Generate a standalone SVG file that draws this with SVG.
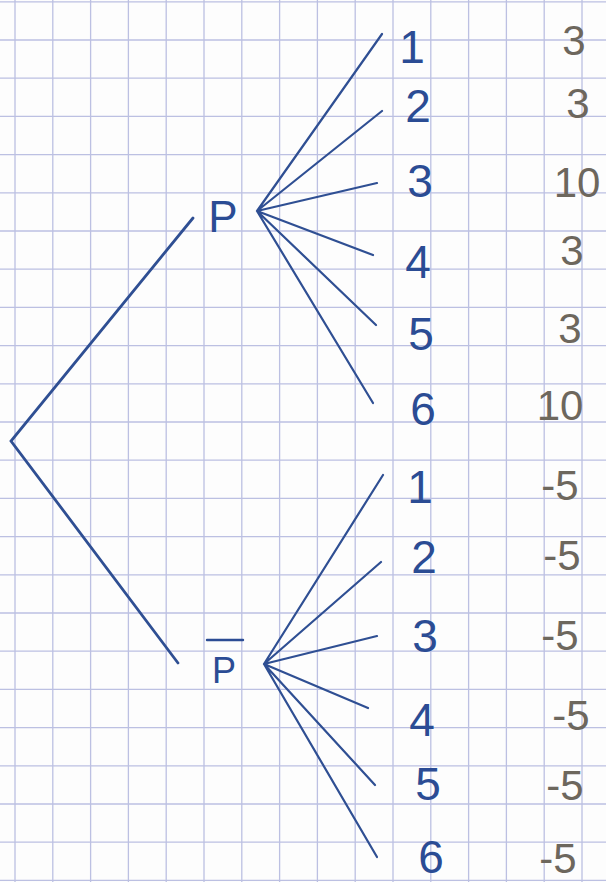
<svg xmlns="http://www.w3.org/2000/svg" width="606" height="882" viewBox="0 0 606 882">
<style>
.grid{stroke:#bcc0e2;stroke-width:1.3;fill:none}
.edge{stroke:#2f4f93;stroke-width:2.2;fill:none;stroke-linecap:round}
.main{stroke-width:2.8}
.lab{font-family:"Liberation Sans","DejaVu Sans",sans-serif;fill:#2b4c94;text-anchor:middle}
.val{font-family:"Liberation Sans","DejaVu Sans",sans-serif;fill:#6d675d;text-anchor:middle;font-size:42px}
.num{font-size:46px}
</style>
<rect width="606" height="882" fill="#fdfdfd"/>
<path class="grid" d="M15 0V882M52.8 0V882M90.6 0V882M128.4 0V882M166.2 0V882M204 0V882M241.8 0V882M279.6 0V882M317.4 0V882M355.2 0V882M393 0V882M430.8 0V882M468.6 0V882M506.4 0V882M544.2 0V882M582 0V882
M0 1.8H606M0 40H606M0 78.2H606M0 116.4H606M0 154.6H606M0 192.8H606M0 231H606M0 269.2H606M0 307.4H606M0 345.6H606M0 383.8H606M0 422H606M0 460.2H606M0 498.4H606M0 536.6H606M0 574.8H606M0 613H606M0 651.2H606M0 689.4H606M0 727.6H606M0 765.8H606M0 804H606M0 842.2H606M0 880.4H606"/>
<g id="connectors">
<path class="edge main" d="M193 218L11 441L178 663"/>
<path class="edge" d="M257 211L382 34M257 211L382 111M257 211L377 183M257 211L373 255M257 211L376 325M257 211L373 403"/>
<path class="edge" d="M264 664L383 475M264 664L381 562M264 664L377 636M264 664L368 708M264 664L375 785M264 664L377 857"/>
</g>
<g id="root"/>
<g id="node-P"><text class="lab" x="223" y="232" font-size="44">P</text></g>
<g id="node-Pbar"><line x1="207" y1="640" x2="243" y2="640" stroke="#2b4c94" stroke-width="2.4" stroke-linecap="round"/><text class="lab" x="224" y="683" font-size="36">P</text></g>
<g id="P1"><text class="lab num" x="412" y="63">1</text><text class="val" x="574" y="55">3</text></g>
<g id="P2"><text class="lab num" x="418" y="122">2</text><text class="val" x="578" y="118">3</text></g>
<g id="P3"><text class="lab num" x="420" y="197">3</text><text class="val" x="577" y="197">10</text></g>
<g id="P4"><text class="lab num" x="418" y="278">4</text><text class="val" x="572" y="265">3</text></g>
<g id="P5"><text class="lab num" x="421" y="350">5</text><text class="val" x="570" y="343">3</text></g>
<g id="P6"><text class="lab num" x="423" y="425">6</text><text class="val" x="560" y="420">10</text></g>
<g id="F1"><text class="lab num" x="420" y="503">1</text><text class="val" x="560" y="500">-5</text></g>
<g id="F2"><text class="lab num" x="424" y="573">2</text><text class="val" x="562" y="570">-5</text></g>
<g id="F3"><text class="lab num" x="425" y="652">3</text><text class="val" x="560" y="650">-5</text></g>
<g id="F4"><text class="lab num" x="422" y="736">4</text><text class="val" x="571" y="730">-5</text></g>
<g id="F5"><text class="lab num" x="428" y="800">5</text><text class="val" x="565" y="800">-5</text></g>
<g id="F6"><text class="lab num" x="431" y="873">6</text><text class="val" x="558" y="873">-5</text></g>
</svg>
